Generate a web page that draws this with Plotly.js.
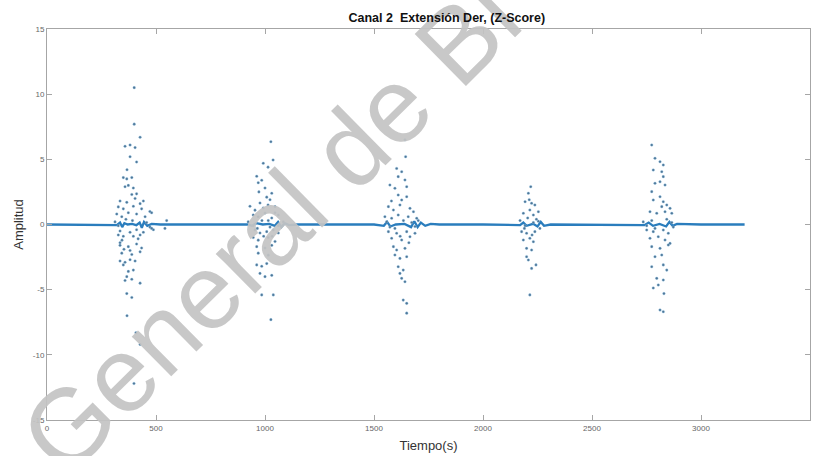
<!DOCTYPE html>
<html>
<head>
<meta charset="utf-8">
<script src="https://cdn.plot.ly/plotly-3.0.1.min.js"></script>
<style>html,body{margin:0;padding:0;background:#fff;}#chart{width:819px;height:456px;}</style>
</head>
<body>
<div id="chart"></div>
<script>
// Baseline signal (Z-score, near zero)
const baseX = [0, 100, 200, 300, 320, 335, 345, 355, 370, 390, 410, 425, 435, 445, 460, 480, 520, 600, 800, 920, 940, 960, 990, 1020, 1045, 1060, 1075, 1090, 1110, 1150, 1300, 1500, 1545, 1560, 1575, 1600, 1640, 1670, 1685, 1700, 1715, 1735, 1760, 1800, 2000, 2150, 2170, 2185, 2200, 2230, 2250, 2265, 2280, 2310, 2500, 2700, 2740, 2760, 2780, 2810, 2840, 2855, 2870, 2890, 3000, 3200];
const baseY = [0, 0, 0, 0, -0.05, 0.15, -0.2, 0.1, 0, 0.05, -0.05, 0.15, -0.25, 0.2, -0.1, 0.05, 0, 0, 0, 0, -0.1, 0.1, 0, 0.05, -0.1, 0.2, -0.2, 0.1, -0.05, 0, 0, 0, -0.1, 0.2, -0.15, 0, 0.05, -0.2, 0.25, -0.2, 0.15, -0.1, 0.05, 0, 0, 0, -0.05, 0.15, -0.1, 0.05, -0.15, 0.2, -0.1, 0, 0, 0, -0.05, 0.15, -0.1, 0.05, -0.15, 0.2, -0.1, 0.05, 0, 0];

// Burst 1 (~300-550 s)
const b1x = [400, 400, 427, 358, 381, 404, 381, 411, 367, 350, 366, 389, 358, 373, 396, 411, 389, 335, 366, 427, 442, 327, 350, 396, 434, 472, 320, 343, 373, 411, 450, 480, 312, 327, 457, 472, 488, 541, 549, 335, 381, 411, 442, 480, 350, 396, 427, 327, 335, 335, 373, 411, 434, 353, 381, 343, 389, 427, 335, 358, 381, 404, 350, 373, 396, 366, 358, 389, 427, 366, 389, 367, 408, 427, 399, 362, 392, 418, 344, 404];
const b1y = [10.5, 7.7, 6.7, 6.0, 6.1, 5.9, 5.2, 4.8, 4.2, 3.6, 3.5, 3.6, 2.9, 3.0, 2.8, 2.35, 2.3, 1.8, 1.7, 1.6, 1.8, 1.35, 1.2, 1.4, 1.2, 1.0, 0.8, 0.6, 0.9, 0.8, 0.6, 0.9, 0.2, -0.1, 0.15, -0.2, -0.4, -0.3, 0.3, -0.5, -0.6, -0.4, -0.6, -0.3, -0.9, -0.9, -0.8, -0.8, -1.4, -1.6, -1.7, -1.5, -1.8, -1.9, -2.0, -2.2, -2.3, -2.1, -2.8, -2.9, -2.7, -2.8, -3.1, -3.6, -3.5, -4.0, -4.3, -4.2, -4.5, -5.3, -5.6, -7.0, -8.3, -9.2, -12.2, 0.4, 0.3, -1.1, -1.2, 2.0];

// Burst 2 (~920-1090 s)
const b2x = [1027, 992, 1037, 1014, 962, 985, 969, 1031, 1008, 1023, 977, 992, 954, 1046, 946, 969, 1000, 1031, 1061, 923, 946, 1015, 1061, 1084, 954, 977, 1008, 1038, 1061, 946, 969, 1015, 1046, 962, 1000, 1031, 969, 1015, 962, 985, 1008, 977, 1000, 1031, 985, 1038, 1027, 931, 986, 1023, 1046, 965, 994, 1033, 1014, 972, 1000];
const b2y = [6.35, 4.7, 4.95, 4.4, 3.7, 3.4, 3.2, 2.4, 2.1, 1.9, 1.65, 1.27, 1.1, 1.37, 0.73, 0.6, 0.88, 0.5, 0.73, 0.2, -0.1, 0.3, -0.1, 0.2, -0.42, -0.65, -0.55, -0.42, -0.65, -1.0, -1.2, -1.0, -1.3, -1.7, -1.8, -1.6, -2.2, -2.35, -3.1, -3.2, -3.0, -3.75, -4.0, -3.9, -5.4, -5.4, -7.3, 1.4, 0.3, -0.2, 0.9, -0.3, -0.9, -0.9, 1.5, 2.5, 2.8];

// Burst 3 (~1540-1710 s)
const b3x = [1642, 1645, 1604, 1627, 1611, 1642, 1573, 1596, 1650, 1611, 1627, 1650, 1566, 1589, 1619, 1665, 1681, 1550, 1581, 1611, 1657, 1696, 1558, 1573, 1673, 1688, 1703, 1566, 1604, 1650, 1688, 1581, 1627, 1665, 1589, 1604, 1642, 1596, 1619, 1650, 1611, 1634, 1619, 1627, 1642, 1634, 1650, 1650, 1596, 1635, 1620, 1660, 1580];
const b3y = [6.5, 5.2, 4.3, 4.05, 3.67, 3.42, 3.03, 2.78, 2.9, 2.26, 1.88, 2.13, 1.37, 1.11, 1.5, 1.24, 0.98, 0.6, 0.48, 0.73, 0.6, 0.48, 0.2, -0.2, 0.15, -0.15, 0.3, -0.55, -0.67, -0.55, -0.67, -1.06, -1.19, -0.94, -1.7, -1.96, -1.83, -2.34, -2.6, -2.47, -3.24, -3.5, -3.75, -4.13, -4.39, -5.8, -6.05, -6.8, -0.3, 0.3, -0.9, -1.4, 1.8];

// Burst 4 (~2170-2260 s)
const b4x = [2219, 2208, 2193, 2223, 2238, 2185, 2215, 2231, 2254, 2170, 2193, 2231, 2254, 2261, 2177, 2200, 2238, 2185, 2215, 2231, 2200, 2223, 2200, 2208, 2223, 2243, 2215, 2205, 2245, 2190, 2225, 2212];
const b4y = [2.9, 2.4, 1.75, 1.63, 1.5, 0.86, 1.11, 0.73, 0.98, 0.3, -0.1, 0.15, 0.25, -0.3, -0.55, -0.67, -0.55, -1.19, -1.06, -1.32, -1.83, -1.96, -2.47, -2.72, -3.37, -3.1, -5.4, 0.5, 0.4, -0.3, -0.8, 1.9];

// Burst 5 (~2730-2870 s)
const b5x = [2774, 2789, 2812, 2827, 2781, 2820, 2827, 2789, 2812, 2835, 2774, 2812, 2781, 2827, 2820, 2843, 2858, 2766, 2797, 2835, 2866, 2735, 2751, 2774, 2789, 2843, 2866, 2873, 2751, 2781, 2827, 2850, 2766, 2804, 2835, 2858, 2774, 2812, 2850, 2789, 2820, 2774, 2827, 2843, 2797, 2827, 2804, 2781, 2830, 2812, 2827];
const b5y = [6.1, 5.08, 4.82, 4.57, 4.18, 4.05, 3.67, 3.16, 3.28, 3.03, 2.52, 2.13, 1.88, 1.75, 1.37, 1.5, 1.24, 0.98, 0.86, 0.98, 0.86, 0.2, -0.1, 0.3, -0.3, 0.4, 0.15, -0.2, -0.42, -0.55, -0.42, -0.67, -1.06, -0.94, -1.19, -1.45, -1.7, -1.83, -1.57, -2.47, -2.34, -3.24, -3.1, -3.5, -4.13, -4.26, -4.64, -4.87, -5.3, -6.56, -6.69];

const xTicks = [0, 500, 1000, 1500, 2000, 2500, 3000, 3500];
const yTicks = [-15, -10, -5, 0, 5, 10, 15];

const dotStyle = {size: 2.6, color: '#4f7594', line: {width: 0.8, color: 'rgba(140,195,235,0.45)'}};
const bursts = [[b1x, b1y], [b2x, b2y], [b3x, b3y], [b4x, b4y], [b5x, b5y]];

const traces = [{
  x: baseX, y: baseY, type: 'scatter', mode: 'lines',
  line: {color: '#2a7dbd', width: 2.3}, showlegend: false, hoverinfo: 'skip'
}];
bursts.forEach(b => traces.push({
  x: b[0], y: b[1], type: 'scatter', mode: 'markers',
  marker: dotStyle, showlegend: false
}));

const axisCommon = {
  showgrid: false, zeroline: false, showline: true, mirror: 'ticks',
  linecolor: '#a6a6a6', linewidth: 1, ticks: 'inside', ticklen: 5,
  tickcolor: '#a6a6a6', tickfont: {family: 'Arial, Liberation Sans, sans-serif', size: 8, color: '#666'}
};

const layout = {
  width: 819, height: 456,
  margin: {l: 47, r: 9, t: 29, b: 36},
  paper_bgcolor: '#fff', plot_bgcolor: '#fff',
  font: {family: 'Arial, Liberation Sans, sans-serif'},
  title: {
    text: '<b>Canal 2\u00a0 Extensión Der, (Z-Score)</b>',
    font: {size: 12.5, color: '#111', family: 'Arial, Liberation Sans, sans-serif'},
    x: 0.524, xanchor: 'center', y: 0.962, yanchor: 'middle', xref: 'paper'
  },
  xaxis: Object.assign({}, axisCommon, {
    range: [0, 3500], tickvals: xTicks, ticktext: xTicks.map(String),
    title: {text: 'Tiempo(s)', font: {size: 13, color: '#333'}, standoff: 9}
  }),
  yaxis: Object.assign({}, axisCommon, {
    range: [-15, 15], tickvals: yTicks, ticktext: yTicks.map(String),
    title: {text: 'Amplitud', font: {size: 13, color: '#333'}, standoff: 6}
  }),
  annotations: [{
    text: 'General de Bi', xref: 'paper', yref: 'paper',
    x: (270 - 47) / 763, y: (420 - 227) / 391, xanchor: 'center', yanchor: 'middle',
    showarrow: false, textangle: -44.6,
    font: {family: 'Arial, Liberation Sans, sans-serif', size: 106, color: 'rgba(195,195,195,0.92)'}
  }]
};

const gd = document.getElementById('chart');
Plotly.newPlot(gd, traces, layout, {displayModeBar: false, staticPlot: true}).then(() => {
  // keep the chart title above the watermark, as in the reference
  const t = gd.querySelector('.g-gtitle');
  const svgs = gd.querySelectorAll('svg.main-svg');
  const top = svgs[svgs.length - 1];
  if (t && top) top.appendChild(t);
});
</script>
</body>
</html>
